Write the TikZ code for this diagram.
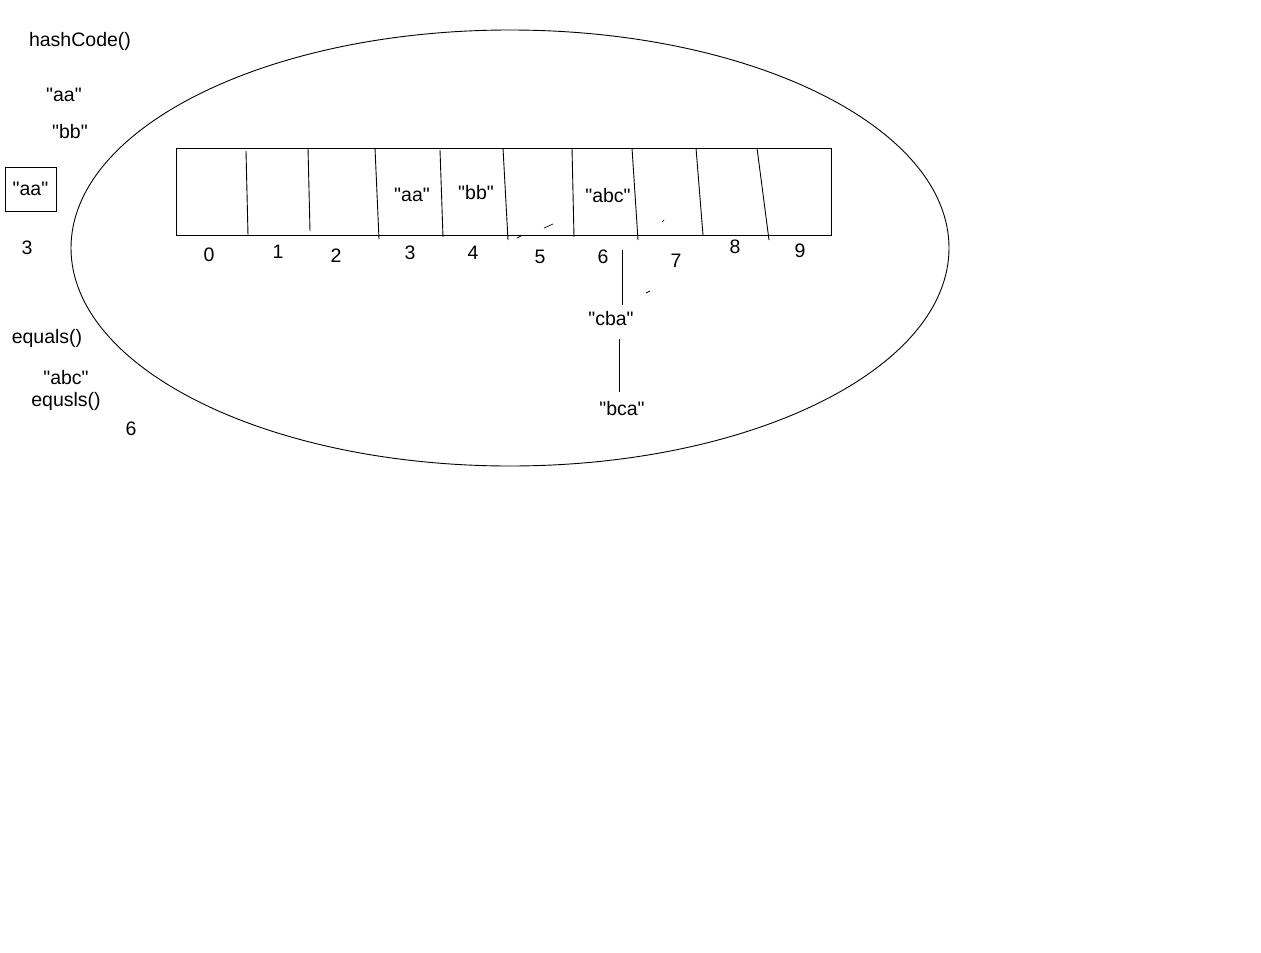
\documentclass[tikz,border=0pt]{standalone}
\usepackage{fontspec}
\newfontfamily\labelfont{Liberation Sans}
\begin{document}
\begin{tikzpicture}[x=1pt,y=-1pt,line width=0.9pt]
    \tikzset{
        lbl/.style={inner sep=0pt,font=\labelfont\fontsize{19.5}{22}\selectfont},
        keybox/.style={lbl,draw,minimum width=51pt,minimum height=44pt}
    }
    \newcommand{\stray}[2]{
        \draw[line width=0.7pt] #1 -- #2;
    }
    \useasboundingbox[fill=white] (0,0) rectangle (1261,953);

    % the table
    \draw (510,248) ellipse [x radius=439, y radius=218];
    \draw (176,148) rectangle (831,235);
    \foreach \xa/\ya/\xb/\yb in {246/151/248/235, 308/148/310/231, 375/148/379/239,
        440/150/443/237, 503/148/508/240, 572/148/574/237, 632/148/638/240,
        696/148/703/235, 757/148/769/240}
        \draw (\xa,\ya) -- (\xb,\yb);
    \stray{(517,238)}{(521,236)}
    \stray{(544,228)}{(553,224)}
    \stray{(662,222)}{(664,220)}
    \stray{(646,293)}{(650,291)}

    % indices
    \foreach \i/\x/\y in {0/209/255, 1/278/252, 2/336/256, 3/410/253, 4/473/253,
        5/540/257, 6/603/257, 7/676/261, 8/735/247, 9/800/251}
        \node[lbl] (idx\i) at (\x,\y) {\i};

    % entries
    \node[lbl] (cellaa) at (412,195) {"aa"};
    \node[lbl] (cellbb) at (476,193) {"bb"};
    \node[lbl] (cellabc) at (608,196) {"abc"};
    \node[lbl] (cba) at (611,319) {"cba"};
    \node[lbl] (bca) at (622,409) {"bca"};
    \coordinate (link6) at (622,250);
    \coordinate (link6end) at (622,305);
    \coordinate (linkcba) at (619,339);
    \coordinate (linkbca) at (619,392);
    \draw (link6) -- (link6end);
    \draw (linkcba) -- (linkbca);

    % notes on the left
    \node[lbl] (hash) at (80,41) {hashCode()};
    \node[lbl] (keyaa) at (64,95) {"aa"};
    \node[lbl] (keybb) at (70,132) {"bb"};
    \node[keybox] (boxaa) at (30.5,189) {"aa"};
    \node[lbl] (hash3) at (27,248) {3};
    \node[lbl] (eq) at (47,338) {equals()};
    \node[lbl] (keyabc) at (66,378) {"abc"};
    \node[lbl] (eq2) at (66,401) {equsls()};
    \node[lbl] (hash6) at (131,429) {6};
\end{tikzpicture}
\end{document}
